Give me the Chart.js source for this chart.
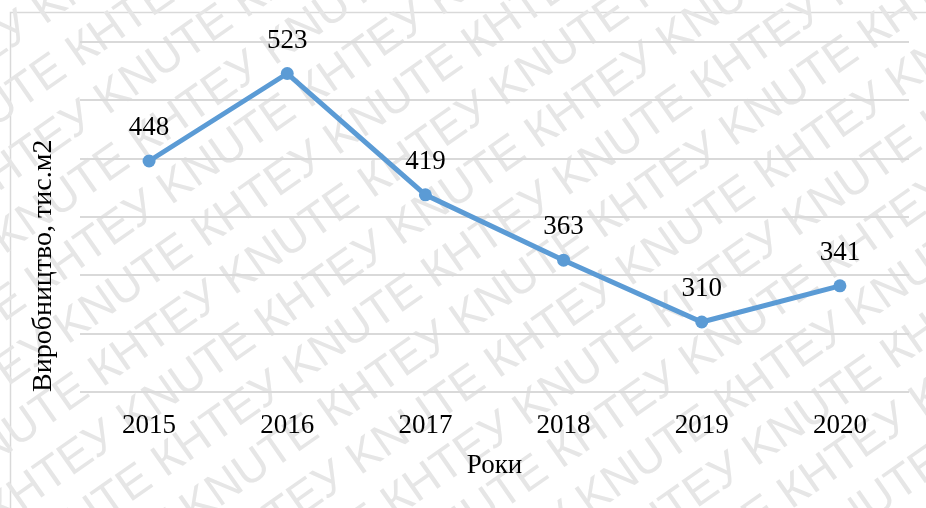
<!DOCTYPE html>
<html>
<head>
<meta charset="utf-8">
<script src="https://cdn.jsdelivr.net/npm/chart.js@4.4.0/dist/chart.umd.min.js"></script>
<style>
  html, body { margin: 0; padding: 0; background: #fff; }
  #wrap { width: 926px; height: 508px; }
</style>
</head>
<body>
<div id="wrap"><canvas id="chart" width="926" height="508"></canvas></div>
<script>
const years = ['2015', '2016', '2017', '2018', '2019', '2020'];
const production = [448, 523, 419, 363, 310, 341];
const xTitle = 'Роки';
const yTitle = 'Виробництво, тис.м2';
const watermarkWords = 'KNUTE КНТЕУ ';

const serif = '"Liberation Serif", "Times New Roman", serif';

// light diagonal watermark + frame behind the chart
const background = {
    id: 'background',
    beforeDraw(chart) {
        const ctx = chart.ctx;
        ctx.save();
        ctx.strokeStyle = '#d9d9d9';
        ctx.lineWidth = 1.5;
        ctx.strokeRect(10.5, 12.5, chart.width + 20, chart.height + 20);

        ctx.fillStyle = '#e6e6e6';
        ctx.font = '46px "Liberation Sans", Arial, sans-serif';
        ctx.textBaseline = 'middle';
        ctx.translate(chart.width / 2, chart.height / 2);
        ctx.rotate(-35 * Math.PI / 180);
        const w = ctx.measureText(watermarkWords).width;
        for (let r = -12; r <= 12; r++) {
            const shift = (Math.abs(r) % 2) * w / 2;
            for (let x = -1200 + shift; x < 1200; x += w) {
                ctx.fillText(watermarkWords, x, r * 55);
            }
        }
        ctx.restore();
    }
};

// value labels above the points
const valueLabels = {
    id: 'valueLabels',
    afterDatasetsDraw(chart) {
        const ctx = chart.ctx;
        const meta = chart.getDatasetMeta(0);
        ctx.save();
        ctx.fillStyle = '#000';
        ctx.font = '27px ' + serif;
        ctx.textAlign = 'center';
        ctx.textBaseline = 'middle';
        meta.data.forEach((pt, i) => {
            ctx.fillText(String(production[i]), pt.x, pt.y - 33);
        });
        ctx.restore();
    }
};

new Chart(document.getElementById('chart'), {
    type: 'line',
    data: {
        labels: years,
        datasets: [{
            data: production,
            borderColor: '#5b9bd5',
            backgroundColor: '#5b9bd5',
            borderWidth: 5,
            pointRadius: 6.5,
            pointHoverRadius: 6.5,
            pointBorderWidth: 0,
            tension: 0,
            fill: false
        }]
    },
    options: {
        responsive: false,
        animation: false,
        layout: { padding: { top: 42, right: 17, left: 0, bottom: 0 } },
        plugins: {
            legend: { display: false },
            tooltip: { enabled: false }
        },
        scales: {
            x: {
                offset: true,
                grid: { display: false },
                border: { display: false },
                ticks: {
                    color: '#000',
                    font: { family: serif, size: 27 },
                    padding: 10,
                    maxRotation: 0
                },
                title: {
                    display: true,
                    text: xTitle,
                    color: '#000',
                    font: { family: serif, size: 27 },
                    padding: { top: 0, bottom: 26 }
                },
                afterFit(scale) { scale.height = 116; }
            },
            y: {
                min: 250,
                max: 550,
                ticks: { display: false, stepSize: 50 },
                grid: { color: '#d9d9d9', lineWidth: 2, drawTicks: false },
                border: { display: false },
                title: {
                    display: true,
                    text: yTitle,
                    align: 'start',
                    color: '#000',
                    font: { family: serif, size: 28 },
                    padding: { top: 27, bottom: 0 }
                },
                afterFit(scale) { scale.width = 80; }
            }
        }
    },
    plugins: [background, valueLabels]
});
</script>
</body>
</html>
